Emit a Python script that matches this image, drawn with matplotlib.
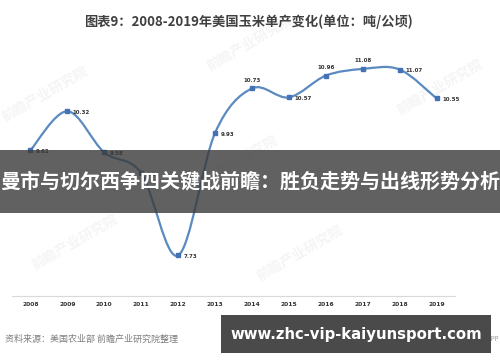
import numpy as np
import matplotlib
matplotlib.use('Agg')
import matplotlib.pyplot as plt
from matplotlib.path import Path
from matplotlib.patches import PathPatch, Rectangle

plt.rcParams['font.family'] = ['Noto Sans CJK SC', 'DejaVu Sans']

years = ['2008', '2009', '2010', '2011', '2012', '2013',
         '2014', '2015', '2016', '2017', '2018', '2019']
yields = [9.62, 10.32, 9.58, 9.21, 7.73, 9.93,
          10.73, 10.57, 10.96, 11.08, 11.07, 10.55]
label_pos = ['r', 'r', 'r', 'r', 'r', 'r', 'a', 'r', 'a', 'a', 'r', 'r']

title = '图表9：2008-2019年美国玉米单产变化(单位：吨/公顷)'
source = '资料来源：美国农业部 前瞻产业研究院整理'
banner = '曼市与切尔西争四关键战前瞻：胜负走势与出线形势分析'
site = 'www.zhc-vip-kaiyunsport.com'

fig = plt.figure(figsize=(5, 3.62), dpi=100)
fig.patch.set_facecolor('white')

# faint watermarks
for wx, wy in [(0.09, 0.74), (0.5, 0.88), (0.47, 0.55), (0.88, 0.76),
               (0.15, 0.33), (0.6, 0.3)]:
    fig.text(wx, wy, '前瞻产业研究院', fontsize=10, color='#f5f5f5',
             rotation=30, ha='center', va='center', fontweight='bold', zorder=-1)

ax = fig.add_axes([0.024, 0.182, 0.886, 0.769])
ax.set_facecolor('none')
x = np.arange(len(years))
y = np.array(yields)

# Excel-style smoothed line as cubic Bezier segments
xp = np.concatenate([[x[0]], x, [x[-1]]])
yp = np.concatenate([[y[0]], y, [y[-1]]])
verts = [(x[0], y[0])]
codes = [Path.MOVETO]
for i in range(1, len(x)):
    p0 = np.array([xp[i - 1], yp[i - 1]])
    p1 = np.array([xp[i], yp[i]])
    p2 = np.array([xp[i + 1], yp[i + 1]])
    p3 = np.array([xp[i + 2], yp[i + 2]])
    c1 = p1 + (p2 - p0) / 6
    c2 = p2 - (p3 - p1) / 6
    verts += [tuple(c1), tuple(c2), tuple(p2)]
    codes += [Path.CURVE4] * 3
ax.add_patch(PathPatch(Path(verts, codes), fill=False, edgecolor='#5a8ac0',
                       linewidth=1.6, zorder=2))
ax.plot(x, y, 's', color='#4472b4', markersize=3, zorder=3)

for xi, yi, pos in zip(x, y, label_pos):
    if pos == 'a':
        ax.annotate(f'{yi:.2f}', (xi, yi), xytext=(0, 4), textcoords='offset points',
                    ha='center', va='bottom', fontsize=4, fontweight='bold',
                    color='#333333', family='DejaVu Sans')
    else:
        ax.annotate(f'{yi:.2f}', (xi, yi), xytext=(4, -1), textcoords='offset points',
                    ha='left', va='center', fontsize=4, fontweight='bold',
                    color='#333333', family='DejaVu Sans')

ax.set_xlim(-0.5, len(years) - 0.5)
ax.set_ylim(7, 12)
ax.set_xticks(x)
ax.set_xticklabels(years, fontsize=4.3, fontweight='bold', color='#333333',
                   family='DejaVu Sans')
ax.tick_params(axis='x', length=0, pad=4)
ax.set_yticks([])
for s in ['top', 'right', 'left']:
    ax.spines[s].set_visible(False)
ax.spines['bottom'].set_color('#d9d9d9')
ax.spines['bottom'].set_linewidth(0.8)

fig.text(0.496, 0.939, title, fontsize=9.5, fontweight='bold', color='#404040',
         ha='center', va='center')
fig.text(0.01, 0.063, source, fontsize=6.5, color='#7f7f7f', ha='left', va='center')
fig.text(0.998, 0.063, 'APP', fontsize=4.5, color='#999999', ha='right', va='center')

# overlay banners
fig.patches.append(Rectangle((0, 1 - 213 / 362), 1, 63 / 362, transform=fig.transFigure,
                             facecolor='#3a3a3a', alpha=0.8, edgecolor='none', zorder=5))
fig.text(0.5, 1 - 181 / 362, banner, fontsize=14.4, fontweight='bold', color='white',
         ha='center', va='center', zorder=6)
fig.patches.append(Rectangle((221 / 500, 1 - 353 / 362), 270 / 500, 38 / 362,
                             transform=fig.transFigure, facecolor='#4a4a4a',
                             edgecolor='none', zorder=5))
fig.text(356 / 500, 1 - 335 / 362, site, fontsize=10.7, fontweight='bold', color='white',
         ha='center', va='center', zorder=6, family='DejaVu Sans')

fig.savefig('out.png', dpi=100, facecolor='white')
